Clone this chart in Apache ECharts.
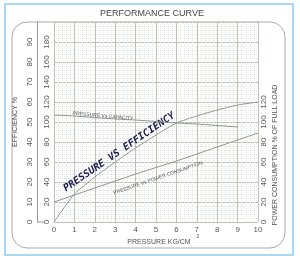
<!DOCTYPE html>
<html><head><meta charset="utf-8">
<script src="https://cdn.jsdelivr.net/npm/echarts@6/dist/echarts.min.js"></script>
<style>html,body{margin:0;padding:0;background:#fff}#c{width:300px;height:262px}</style>
</head><body><div id="c"></div>
<script>
const pressure = [0,1,2,3,4,5,6,7,8,9,10];
const capacity = [107,106,104.5,103,102,100.5,99,98,96.5,95];
const efficiency = [0,28,45,60,74,87,99,106,112,117,120];
const power = [20,27,34,41,48,54.5,61,68,75,82,89];
const leftTicks = [0,20,40,60,80,100,120,140,160,180];
const effTicks = [0,10,20,30,40,50,60,70,80,90];
const rightTicks = [0,20,40,60,80,100,120];

const chart = echarts.init(document.getElementById('c'), null, {renderer:'canvas'});
const pair = (xs, ys) => ys.map((v,i)=>[xs[i], v]);
const lineColor = '#8a9a88';
const txt = '#555';
const font = 'Liberation Sans';
const lbl = (arr) => (v) => { const i = leftTicks.indexOf(v); return i >= 0 && i < arr.length ? String(arr[i]) : ''; };
const major = '#b8c3b5', minor = '#e3e5e3';

chart.setOption({
  animation:false,
  grid:{left:54,right:42,top:22,bottom:40},
  xAxis:{type:'value',min:0,max:10,interval:1,
    axisLine:{show:false},axisTick:{show:false},
    axisLabel:{color:txt,fontSize:8,fontFamily:font,margin:4},
    splitLine:{show:true,lineStyle:{color:major,width:1}},
    minorTick:{show:false,splitNumber:5},
    minorSplitLine:{show:true,lineStyle:{color:minor,width:1,type:[1,1]}}},
  yAxis:[
    {type:'value',min:0,max:200,interval:20,position:'left',
     axisLine:{show:false},axisTick:{show:false},
     axisLabel:{color:txt,fontSize:8,fontFamily:font,rotate:90,margin:3,formatter:lbl(leftTicks)},
     splitLine:{show:true,lineStyle:{color:major,width:1}},
     minorTick:{show:false,splitNumber:5},
     minorSplitLine:{show:true,lineStyle:{color:minor,width:1,type:[1,1]}}},
    {type:'value',min:0,max:200,interval:20,position:'left',offset:17,
     axisLine:{show:true,lineStyle:{color:'#999',width:1}},axisTick:{show:false},
     axisLabel:{color:txt,fontSize:8,fontFamily:font,rotate:90,margin:3,formatter:lbl(effTicks)},
     splitLine:{show:false},
     name:'EFFICIENCY %',nameLocation:'middle',nameRotate:90,nameGap:13,
     nameTextStyle:{color:txt,fontSize:7,fontFamily:font}},
    {type:'value',min:0,max:200,interval:20,position:'right',
     axisLine:{show:false},axisTick:{show:false},
     axisLabel:{color:txt,fontSize:8,fontFamily:font,rotate:90,margin:2,formatter:lbl(rightTicks)},
     splitLine:{show:false}}
  ],
  series:[
    {type:'line',name:'PRESSURE Vs CAPACITY',data:pair(pressure,capacity),yAxisIndex:0,symbol:'none',lineStyle:{color:lineColor,width:1}},
    {type:'line',name:'PRESSURE VS EFFICIENCY',data:pair(pressure,efficiency),yAxisIndex:0,symbol:'none',smooth:0.2,lineStyle:{color:lineColor,width:1}},
    {type:'line',name:'PRESSURE Vs POWER CONSUMPTION',data:pair(pressure,power),yAxisIndex:0,symbol:'none',lineStyle:{color:lineColor,width:1}}
  ]
});

const P = (x,y) => chart.convertToPixel({xAxisIndex:0,yAxisIndex:0},[x,y]);
const p0 = P(0,0), p10 = P(10,200);
const cap = P(2.4,106), pw = P(5.1,44), ef = P(3.2,70);
chart.setOption({graphic:[
  {type:'rect',shape:{x:5,y:4,width:288,height:251},style:{fill:'none',stroke:'#8ccbee',lineWidth:1.5},silent:true,z:-1},
  {type:'rect',shape:{x:12,y:p10[1],width:273,height:226,r:15},style:{fill:'none',stroke:'#aaaaaa',lineWidth:1},silent:true,z:-1},
  {type:'line',shape:{x1:37,y1:p0[1],x2:45,y2:p0[1]},style:{stroke:'#999',lineWidth:1}},
  {type:'text',x:152,y:14,style:{text:'PERFORMANCE CURVE',fill:'#444',font:'9px Liberation Sans',align:'center',verticalAlign:'middle'}},
  {type:'text',x:159,y:242,style:{text:'PRESSURE KG/CM',fill:txt,font:'7px Liberation Sans',align:'center',verticalAlign:'middle'}},
  {type:'text',x:198,y:237,style:{text:'2',fill:txt,font:'5px Liberation Sans',align:'center',verticalAlign:'middle'}},
  {type:'text',x:275,y:155,rotation:Math.PI/2,style:{text:'POWER CONSUMPTION % OF FULL LOAD',fill:txt,font:'7px Liberation Sans',align:'center',verticalAlign:'middle'}},
  {type:'text',x:cap[0],y:cap[1],rotation:-0.09,style:{text:'PRESSURE Vs CAPACITY',fill:'#555',font:'5px Liberation Sans',align:'center',verticalAlign:'middle'}},
  {type:'text',x:pw[0],y:pw[1],rotation:0.33,style:{text:'PRESSURE Vs POWER CONSUMPTION',fill:'#555',font:'5px Liberation Sans',align:'center',verticalAlign:'middle'}},
  {type:'text',x:ef[0],y:ef[1],rotation:0.6,style:{text:'PRESSURE VS EFFICIENCY',fill:'#1c1c50',font:'italic bold 10px DejaVu Sans Mono',align:'center',verticalAlign:'middle'}}
]});
</script></body></html>
